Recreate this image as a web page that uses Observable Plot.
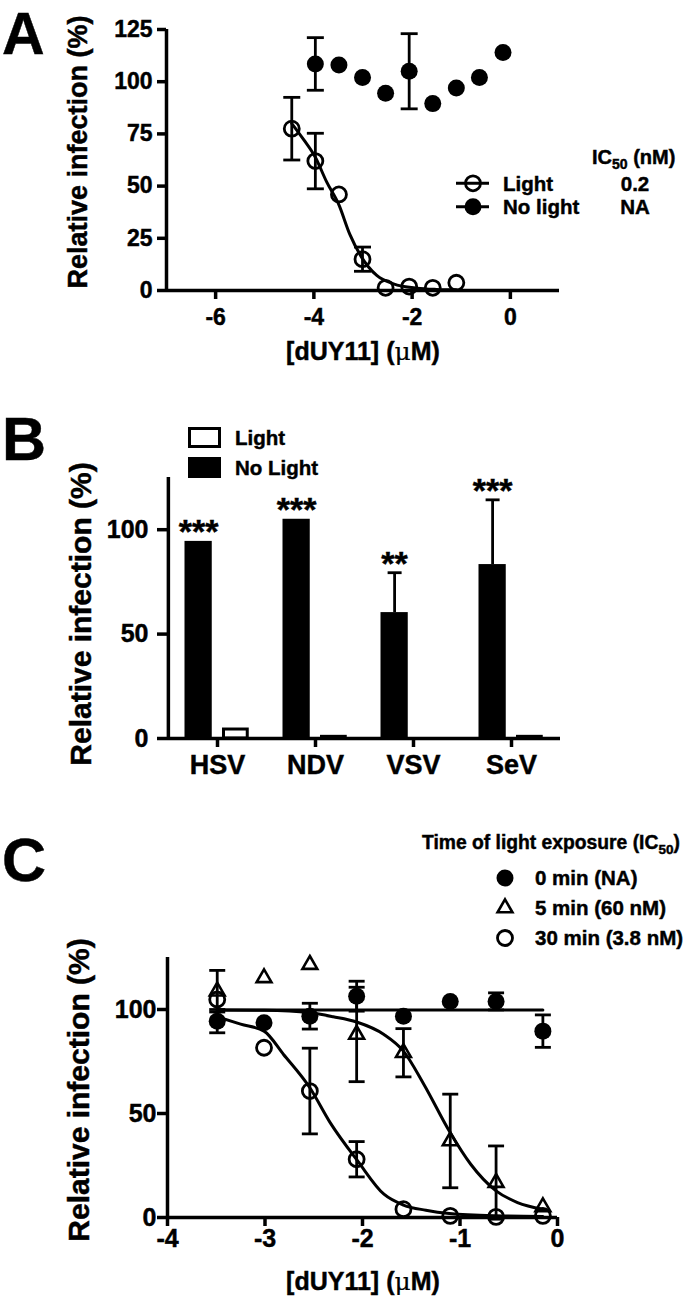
<!DOCTYPE html>
<html><head><meta charset="utf-8">
<script src="https://cdn.jsdelivr.net/npm/d3@7"></script>
<script src="https://cdn.jsdelivr.net/npm/@observablehq/plot@0.6"></script>
<style>
body{margin:0;background:#fff;}
#root{position:relative;width:700px;height:1301px;overflow:hidden;background:#fff;}
.panel{position:absolute;left:0;}
.panel svg text{stroke:#000;stroke-width:0.45px;}
#overlay{position:absolute;left:0;top:0;pointer-events:none;}
#overlay text{font-family:"Liberation Sans",Arial,sans-serif;font-weight:bold;fill:#000;stroke:#000;stroke-width:0.45px;}
</style></head><body>
<div id="root">
<div class="panel" id="pA" style="top:0px"></div>
<div class="panel" id="pB" style="top:370px"></div>
<div class="panel" id="pC" style="top:790px"></div>
<svg id="overlay" width="700" height="1301"></svg>
</div>
<script>
// ---------------- Panel A data ----------------
const aXTicks = [-6, -4, -2, 0];
const aYTicks = [0, 25, 50, 75, 100, 125];
const aSeries = ["Light", "No light"];
const aIC50 = ["0.2", "NA"];
const aLightX = [-4.45, -3.97, -3.49, -3.01, -2.54, -2.06, -1.58, -1.10];
const aLightY = [77.5, 62, 46, 15, 1.3, 1.9, 1.3, 3.7];
const aLightErr = [15, 13.3, 0, 5.8, 0, 0, 0, 0];
const aNoLightX = [-3.97, -3.49, -3.01, -2.54, -2.06, -1.58, -1.10, -0.63, -0.15];
const aNoLightY = [108.5, 108, 102, 94.5, 105, 89.5, 97, 102, 114];
const aNoLightErr = [12.6, 0, 0, 0, 18, 0, 0, 0, 0];
const aFitX = [-4.45, -4.2, -3.97, -3.74, -3.49, -3.27, -3.03, -2.72, -2.38, -1.9, -1.5, -1.1];
const aFitY = [80, 72, 63.8, 52, 41, 27, 16, 7.2, 3.2, 1.1, 0.5, 0.3];

// ---------------- Panel B data ----------------
const viruses = ["HSV", "NDV", "VSV", "SeV"];
const bSeries = ["Light", "No Light"];
const bYTicks = [0, 50, 100];
const bNoLight = [94.4, 105, 60.3, 83.3];
const bNoLightErr = [0, 0, 19.1, 31];
const bLight = [4.3, 0.8, 0, 0.8];
const bSignif = ["***", "***", "**", "***"];

// ---------------- Panel C data ----------------
const cXTicks = [-4, -3, -2, -1, 0];
const cYTicks = [0, 50, 100];
const cTitle = "Time of light exposure (IC";
const cSeries = ["0 min (NA)", "5 min (60 nM)", "30 min (3.8 nM)"];
const cX = [-3.49, -3.01, -2.54, -2.06, -1.58, -1.10, -0.63, -0.15];
const c0Y = [94.4, 93.6, 96.8, 106.4, 96.8, 103.9, 103.9, 89.6];
const c0Err = [5.6, 0, 6.2, 7.2, 0, 0, 4.1, 7.8];
const c5Y = [108.8, 115.2, 121.6, 88, 79.2, 36.8, 16.8, 5.1];
const c5Err = [10, 0, 0, 22.7, 11.6, 22.5, 17.6, 0];
const c30Y = [104.8, 81.6, 60.8, 28, 4, 0.8, 0.3, 0.8];
const c30Err = [0, 0, 20.6, 8.5, 0, 0, 0, 0];
const c0FitX = [-3.49, -0.15];
const c0FitY = [99.7, 99.7];
const c5FitX = [-3.49, -3.01, -2.54, -2.3, -2.06, -1.78, -1.58, -1.37, -1.11, -0.89, -0.63, -0.41, -0.15];
const c5FitY = [99.8, 99.6, 98.4, 96.5, 94, 88, 80, 64, 41.6, 25.6, 12.8, 7.2, 4];
const c30FitX = [-3.49, -3.25, -3.01, -2.81, -2.54, -2.33, -2.05, -1.78, -1.58, -1.35, -1.11, -0.63, -0.15];
const c30FitY = [96.5, 93, 89.6, 78.4, 62.4, 45.5, 27.2, 11.2, 6, 3.5, 1.9, 0.8, 0.5];

// ---------------- helpers ----------------
const FONT = '"Liberation Sans", Arial, sans-serif';
const AXW = 3.5, LW = 3, EW = 2.8;
const baseStyle = (size) => ({fontFamily: FONT, fontWeight: "bold", fontSize: size + "px",
  color: "black", background: "transparent", overflow: "visible"});
const pts = (xs, ys, es) => xs.map((x, i) => ({x, y: ys[i], e: es ? es[i] : 0}));
const capSym = {draw(ctx, size) { const w = Math.sqrt(size / Math.PI); ctx.moveTo(-w, 0); ctx.lineTo(w, 0); }};
function errMarks(data, capR) {
  const w = data.filter(d => d.e > 0);
  const caps = w.flatMap(d => [{x: d.x, y: d.y - d.e}, {x: d.x, y: d.y + d.e}]);
  return [
    Plot.ruleX(w, {x: "x", y1: d => d.y - d.e, y2: d => d.y + d.e, strokeWidth: EW}),
    Plot.dot(caps, {x: "x", y: "y", symbol: capSym, r: capR, fill: "none", stroke: "black", strokeWidth: EW})
  ];
}

// ---------------- Panel A ----------------
const aLight = pts(aLightX, aLightY, aLightErr);
const aNoLight = pts(aNoLightX, aNoLightY, aNoLightErr);
const aFit = pts(aFitX, aFitY);
const plotA = Plot.plot({
  width: 700, height: 370, marginTop: 29, marginRight: 141, marginBottom: 80, marginLeft: 166,
  style: baseStyle(23),
  x: {domain: [-7, 1]}, y: {domain: [0, 125]},
  marks: [
    Plot.axisX({ticks: aXTicks, tickSize: 9, tickPadding: 9, strokeWidth: AXW, tickFormat: d => String(d), label: null}),
    Plot.axisY({ticks: aYTicks, tickSize: 9, tickPadding: 5, strokeWidth: AXW, label: null}),
    Plot.ruleY([0], {strokeWidth: AXW}),
    Plot.ruleX([-7], {strokeWidth: AXW}),
    Plot.line(aFit, {x: "x", y: "y", strokeWidth: LW, curve: "monotone-x"}),
    ...errMarks(aLight, 8.5),
    ...errMarks(aNoLight, 8.5),
    Plot.dot(aLight, {x: "x", y: "y", r: 7.5, fill: "none", stroke: "black", strokeWidth: 2.8}),
    Plot.dot(aNoLight, {x: "x", y: "y", r: 8.5, fill: "black"})
  ]
});
document.getElementById("pA").append(plotA);

// ---------------- Panel B ----------------
const bData = viruses.map((v, i) => ({virus: v, noLight: bNoLight[i], err: bNoLightErr[i], light: bLight[i], sig: bSignif[i]}));
const bErr = bData.filter(d => d.err > 0);
const plotB = Plot.plot({
  width: 700, height: 420, marginTop: 107, marginRight: 140, marginBottom: 52, marginLeft: 167,
  style: baseStyle(25),
  x: {domain: viruses, padding: 0}, y: {domain: [0, 125]},
  marks: [
    Plot.axisX({tickSize: 9, tickPadding: 7, strokeWidth: AXW, label: null, fontSize: 27}),
    Plot.axisY({ticks: bYTicks, tickSize: 10, tickPadding: 9, strokeWidth: AXW, label: null}),
    Plot.barY(bData, {x: "virus", y: "noLight", fill: "black", insetLeft: 16.5, insetRight: 54.25}),
    Plot.barY(bData, {x: "virus", y: "light", fill: "white", stroke: "black", strokeWidth: 3, insetLeft: 55.5, insetRight: 18.75}),
    Plot.ruleX(bErr, {x: "virus", y1: "noLight", y2: d => d.noLight + d.err, dx: -18.9, strokeWidth: EW}),
    Plot.dot(bErr, {x: "virus", y: d => d.noLight + d.err, dx: -18.9, symbol: capSym, r: 7, fill: "none", stroke: "black", strokeWidth: EW}),
    Plot.text(bData, {x: "virus", y: d => d.noLight + d.err, text: "sig", dx: -18.9, dy: -9, fontSize: 34}),
    Plot.ruleY([0], {strokeWidth: AXW}),
    Plot.ruleX([viruses[0]], {dx: -49.125, strokeWidth: AXW})
  ]
});
document.getElementById("pB").append(plotB);

// ---------------- Panel C ----------------
const c0 = pts(cX, c0Y, c0Err), c5 = pts(cX, c5Y, c5Err), c30 = pts(cX, c30Y, c30Err);
const plotC = Plot.plot({
  width: 700, height: 511, marginTop: 167, marginRight: 143, marginBottom: 84, marginLeft: 167,
  style: baseStyle(25),
  x: {domain: [-4, 0]}, y: {domain: [0, 125]},
  marks: [
    Plot.axisX({ticks: cXTicks, tickSize: 9, tickPadding: 3, strokeWidth: AXW, tickFormat: d => String(d), label: null}),
    Plot.axisY({ticks: cYTicks, tickSize: 10, tickPadding: 1, strokeWidth: AXW, label: null}),
    Plot.ruleY([0], {strokeWidth: AXW}),
    Plot.ruleX([-4], {strokeWidth: AXW}),
    Plot.line(pts(c0FitX, c0FitY), {x: "x", y: "y", strokeWidth: LW}),
    Plot.line(pts(c5FitX, c5FitY), {x: "x", y: "y", strokeWidth: LW, curve: "monotone-x"}),
    Plot.line(pts(c30FitX, c30FitY), {x: "x", y: "y", strokeWidth: LW, curve: "monotone-x"}),
    ...errMarks(c0, 8), ...errMarks(c5, 8), ...errMarks(c30, 8),
    Plot.dot(c30, {x: "x", y: "y", r: 7.5, fill: "none", stroke: "black", strokeWidth: 2.8}),
    Plot.dot(c5, {x: "x", y: "y", r: 5.5, symbol: "triangle", fill: "none", stroke: "black", strokeWidth: 2.6}),
    Plot.dot(c0, {x: "x", y: "y", r: 8.5, fill: "black"})
  ]
});
document.getElementById("pC").append(plotC);

// ---------------- Overlay: panel letters, axis titles, legends ----------------
const ov = d3.select("#overlay");
function text(x, y, size, str, anchor = "start") {
  return ov.append("text").attr("x", x).attr("y", y).attr("font-size", size).attr("text-anchor", anchor).text(str);
}
function vtext(cx, cy, size, str) {
  return ov.append("text").attr("transform", `translate(${cx},${cy}) rotate(-90)`)
    .attr("font-size", size).attr("text-anchor", "middle").text(str);
}
function xlabel(cx, y, size) {
  const t = ov.append("text").attr("x", cx).attr("y", y).attr("font-size", size).attr("text-anchor", "middle");
  t.append("tspan").text("[dUY11] (");
  t.append("tspan").attr("font-family", "DejaVu Serif, serif").attr("font-weight", "normal").attr("stroke-width", 0.2).text("\u03BC");
  t.append("tspan").text("M)");
}
// letters
text(2, 54, 59, "A").attr("stroke-width", 1.2);
text(2, 460, 61, "B").attr("stroke-width", 1.2);
text(2, 881, 61, "C").attr("stroke-width", 1.2);
// axis titles
vtext(87, 152, 27, "Relative infection (%)");
vtext(91, 614, 30, "Relative infection (%)");
vtext(89, 1090, 30, "Relative infection (%)");
xlabel(363, 360, 25);
xlabel(363, 1290, 25);

// legend A
{
  const t = text(592, 164, 20, "IC");
  t.append("tspan").attr("font-size", 14).attr("dy", 5).text("50");
  t.append("tspan").attr("dy", -5).text(" (nM)");
  const rows = [183.3, 206.7];
  aSeries.forEach((s, i) => {
    const y = rows[i];
    ov.append("line").attr("x1", 456).attr("x2", 489).attr("y1", y).attr("y2", y).attr("stroke", "black").attr("stroke-width", 3);
    ov.append("circle").attr("cx", 473).attr("cy", y).attr("r", i === 0 ? 7.5 : 8.5)
      .attr("fill", i === 0 ? "none" : "black").attr("stroke", i === 0 ? "black" : "none").attr("stroke-width", 2.8);
    text(503, y + 7.2, 20.5, s);
    text(635, y + 7.2, 20.5, aIC50[i], "middle");
  });
}
// legend B
{
  ov.append("rect").attr("x", 189.5).attr("y", 428.5).attr("width", 30).attr("height", 18)
    .attr("fill", "white").attr("stroke", "black").attr("stroke-width", 3);
  ov.append("rect").attr("x", 188).attr("y", 457).attr("width", 33).attr("height", 21).attr("fill", "black");
  text(235, 445, 20.5, bSeries[0]);
  text(235, 475, 20.5, bSeries[1]);
}
// legend C
{
  const t = text(422, 849, 19.3, cTitle);
  t.append("tspan").attr("font-size", 13.5).attr("dy", 5).text("50");
  t.append("tspan").attr("dy", -5).text(")");
  const rows = [878, 908, 938];
  ov.append("circle").attr("cx", 505).attr("cy", rows[0]).attr("r", 8.5).attr("fill", "black");
  ov.append("path").attr("transform", `translate(505,${rows[1]})`)
    .attr("d", d3.symbol(d3.symbolTriangle, 95)()).attr("fill", "none").attr("stroke", "black").attr("stroke-width", 2.6);
  ov.append("circle").attr("cx", 505).attr("cy", rows[2]).attr("r", 7.5).attr("fill", "none").attr("stroke", "black").attr("stroke-width", 2.8);
  cSeries.forEach((s, i) => text(535, rows[i] + 7.2, 20.5, s));
}
</script>
</body></html>
